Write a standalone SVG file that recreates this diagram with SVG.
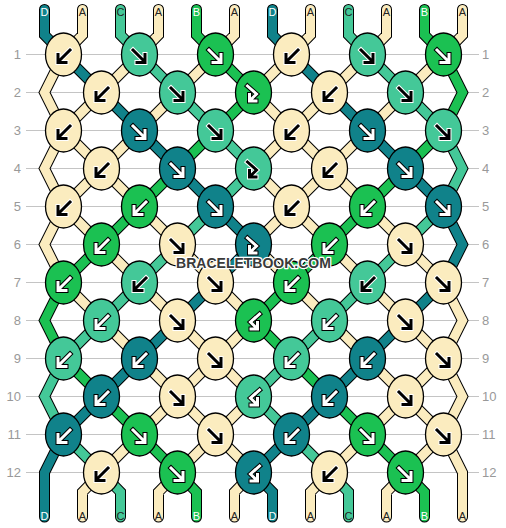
<svg xmlns="http://www.w3.org/2000/svg" xmlns:xlink="http://www.w3.org/1999/xlink" width="506" height="528" viewBox="0 0 506 528">
<style>
.grid{stroke:#c4c4c4;stroke-width:1}
.num{font-family:"Liberation Sans",Arial,sans-serif;font-size:13px;fill:#999}
.ol{fill:none;stroke:#000;stroke-width:11;stroke-linecap:round}
.st{fill:none;stroke-width:9;stroke-linecap:round}
.sA{stroke:#fbecbf}.sB{stroke:#1bc152}.sC{stroke:#44c898}.sD{stroke:#10828a}
.kA{fill:#fbecbf}.kB{fill:#1bc152}.kC{fill:#44c898}.kD{fill:#10828a}
ellipse{stroke:#000;stroke-width:1.3}
.aw{fill:none;stroke:#fff;stroke-width:3;stroke-linecap:square}
.ab{fill:none;stroke:#000;stroke-width:3;stroke-linecap:square}
.aow{fill:none;stroke:#fff;stroke-width:5;stroke-linecap:square}
.aob{fill:none;stroke:#000;stroke-width:5;stroke-linecap:square}
.lab{font-family:"Liberation Sans",Arial,sans-serif;font-size:11px;text-anchor:middle}
.lw{fill:#fff}.ld{fill:#222}
.wm{font-family:"Liberation Sans",Arial,sans-serif;font-size:14px;font-weight:bold;fill:#3a3a3a;stroke:#fff;stroke-width:2.5;paint-order:stroke;stroke-linejoin:round;text-anchor:middle}
</style>
<defs>
<path id="gse" d="M-6.5 -4.5L4 6M5.5 0V8H-2.5"/>
<path id="gfb" d="M-6 -6.5L3 1.5L-3 7.5M-4 2V8.5H2.5"/>
<g id="se-b"><use href="#gse" class="aow"/><use href="#gse" class="ab"/></g>
<g id="se-w"><use href="#gse" class="aob"/><use href="#gse" class="aw"/></g>
<g id="sw-b" transform="scale(-1 1)"><use href="#se-b"/></g>
<g id="sw-w" transform="scale(-1 1)"><use href="#se-w"/></g>
<g id="fb-b"><use href="#gfb" class="aow"/><use href="#gfb" class="ab"/></g>
<g id="fb-w"><use href="#gfb" class="aob"/><use href="#gfb" class="aw"/></g>
<g id="bf-w" transform="scale(-1 1)"><use href="#fb-w"/></g>
<path id="pD" d="M63.5 54.5L101.5 92.5M291.5 54.5L329.5 92.5M139.5 130.5L101.5 92.5M367.5 130.5L329.5 92.5M139.5 130.5L177.5 168.5M367.5 130.5L405.5 168.5M215.5 206.5L177.5 168.5M443.5 206.5L405.5 168.5M215.5 206.5L253.5 244.5M215.5 282.5L253.5 244.5M215.5 282.5L177.5 320.5M443.5 282.5L405.5 320.5M139.5 358.5L177.5 320.5M367.5 358.5L405.5 320.5M139.5 358.5L101.5 396.5M367.5 358.5L329.5 396.5M63.5 434.5L101.5 396.5M291.5 434.5L329.5 396.5M291.5 434.5L253.5 472.5M44.5 9.5V35L63.5 54.5M272.5 9.5V35L291.5 54.5M253.5 472.5L272.5 492V517M443.5 206.5L462.5 244.5L443.5 282.5M63.5 434.5L44.5 472.5V517"/>
<path id="pB" d="M215.5 54.5L253.5 92.5M215.5 130.5L253.5 92.5M215.5 130.5L177.5 168.5M443.5 130.5L405.5 168.5M139.5 206.5L177.5 168.5M367.5 206.5L405.5 168.5M139.5 206.5L101.5 244.5M367.5 206.5L329.5 244.5M63.5 282.5L101.5 244.5M291.5 282.5L329.5 244.5M291.5 282.5L253.5 320.5M291.5 358.5L253.5 320.5M63.5 358.5L101.5 396.5M291.5 358.5L329.5 396.5M139.5 434.5L101.5 396.5M367.5 434.5L329.5 396.5M139.5 434.5L177.5 472.5M367.5 434.5L405.5 472.5M196.5 9.5V35L215.5 54.5M424.5 9.5V35L443.5 54.5M177.5 472.5L196.5 492V517M405.5 472.5L424.5 492V517M63.5 282.5L44.5 320.5L63.5 358.5M443.5 54.5L462.5 92.5L443.5 130.5"/>
<path id="pC" d="M139.5 54.5L177.5 92.5M367.5 54.5L405.5 92.5M215.5 130.5L177.5 92.5M443.5 130.5L405.5 92.5M215.5 130.5L253.5 168.5M215.5 206.5L253.5 168.5M215.5 206.5L177.5 244.5M443.5 206.5L405.5 244.5M139.5 282.5L177.5 244.5M367.5 282.5L405.5 244.5M139.5 282.5L101.5 320.5M367.5 282.5L329.5 320.5M63.5 358.5L101.5 320.5M291.5 358.5L329.5 320.5M291.5 358.5L253.5 396.5M291.5 434.5L253.5 396.5M63.5 434.5L101.5 472.5M291.5 434.5L329.5 472.5M120.5 9.5V35L139.5 54.5M348.5 9.5V35L367.5 54.5M101.5 472.5L120.5 492V517M329.5 472.5L348.5 492V517M443.5 130.5L462.5 168.5L443.5 206.5M63.5 358.5L44.5 396.5L63.5 434.5"/>
<path id="pA" d="M139.5 54.5L101.5 92.5M215.5 54.5L177.5 92.5M291.5 54.5L253.5 92.5M367.5 54.5L329.5 92.5M443.5 54.5L405.5 92.5M63.5 130.5L101.5 92.5M139.5 130.5L177.5 92.5M291.5 130.5L253.5 92.5M291.5 130.5L329.5 92.5M367.5 130.5L405.5 92.5M63.5 130.5L101.5 168.5M139.5 130.5L101.5 168.5M291.5 130.5L253.5 168.5M291.5 130.5L329.5 168.5M367.5 130.5L329.5 168.5M63.5 206.5L101.5 168.5M139.5 206.5L101.5 168.5M291.5 206.5L253.5 168.5M291.5 206.5L329.5 168.5M367.5 206.5L329.5 168.5M63.5 206.5L101.5 244.5M139.5 206.5L177.5 244.5M291.5 206.5L253.5 244.5M291.5 206.5L329.5 244.5M367.5 206.5L405.5 244.5M139.5 282.5L101.5 244.5M215.5 282.5L177.5 244.5M291.5 282.5L253.5 244.5M367.5 282.5L329.5 244.5M443.5 282.5L405.5 244.5M63.5 282.5L101.5 320.5M139.5 282.5L177.5 320.5M215.5 282.5L253.5 320.5M291.5 282.5L329.5 320.5M367.5 282.5L405.5 320.5M139.5 358.5L101.5 320.5M215.5 358.5L177.5 320.5M215.5 358.5L253.5 320.5M367.5 358.5L329.5 320.5M443.5 358.5L405.5 320.5M139.5 358.5L177.5 396.5M215.5 358.5L177.5 396.5M215.5 358.5L253.5 396.5M367.5 358.5L405.5 396.5M443.5 358.5L405.5 396.5M139.5 434.5L177.5 396.5M215.5 434.5L177.5 396.5M215.5 434.5L253.5 396.5M367.5 434.5L405.5 396.5M443.5 434.5L405.5 396.5M139.5 434.5L101.5 472.5M215.5 434.5L177.5 472.5M215.5 434.5L253.5 472.5M367.5 434.5L329.5 472.5M443.5 434.5L405.5 472.5M82.5 9.5V35L63.5 54.5M158.5 9.5V35L139.5 54.5M234.5 9.5V35L215.5 54.5M310.5 9.5V35L291.5 54.5M386.5 9.5V35L367.5 54.5M462.5 9.5V35L443.5 54.5M101.5 472.5L82.5 492V517M177.5 472.5L158.5 492V517M253.5 472.5L234.5 492V517M329.5 472.5L310.5 492V517M405.5 472.5L386.5 492V517M63.5 54.5L44.5 92.5L63.5 130.5M63.5 130.5L44.5 168.5L63.5 206.5M63.5 206.5L44.5 244.5L63.5 282.5M443.5 282.5L462.5 320.5L443.5 358.5M443.5 358.5L462.5 396.5L443.5 434.5M443.5 434.5L462.5 472.5V517"/>
</defs>
<rect width="506" height="528" fill="#fff"/>
<g id="grid" class="grid">
<line x1="26" y1="54.5" x2="479" y2="54.5"/><line x1="26" y1="92.5" x2="479" y2="92.5"/><line x1="26" y1="130.5" x2="479" y2="130.5"/><line x1="26" y1="168.5" x2="479" y2="168.5"/><line x1="26" y1="206.5" x2="479" y2="206.5"/><line x1="26" y1="244.5" x2="479" y2="244.5"/><line x1="26" y1="282.5" x2="479" y2="282.5"/><line x1="26" y1="320.5" x2="479" y2="320.5"/><line x1="26" y1="358.5" x2="479" y2="358.5"/><line x1="26" y1="396.5" x2="479" y2="396.5"/><line x1="26" y1="434.5" x2="479" y2="434.5"/><line x1="26" y1="472.5" x2="479" y2="472.5"/>
</g>
<g id="row-numbers" class="num">
<g text-anchor="end">
<text x="21" y="59">1</text><text x="21" y="97">2</text><text x="21" y="135">3</text><text x="21" y="173">4</text><text x="21" y="211">5</text><text x="21" y="249">6</text><text x="21" y="287">7</text><text x="21" y="325">8</text><text x="21" y="363">9</text><text x="21" y="401">10</text><text x="21" y="439">11</text><text x="21" y="477">12</text>
</g>
<g>
<text x="482" y="59">1</text><text x="482" y="97">2</text><text x="482" y="135">3</text><text x="482" y="173">4</text><text x="482" y="211">5</text><text x="482" y="249">6</text><text x="482" y="287">7</text><text x="482" y="325">8</text><text x="482" y="363">9</text><text x="482" y="401">10</text><text x="482" y="439">11</text><text x="482" y="477">12</text>
</g>
</g>
<g id="connectors">
<use href="#pA" class="ol"/><use href="#pB" class="ol"/><use href="#pC" class="ol"/><use href="#pD" class="ol"/>
<use href="#pA" class="st sA"/><use href="#pB" class="st sB"/><use href="#pC" class="st sC"/><use href="#pD" class="st sD"/>
</g>
<g id="thread-labels" class="lab">
<text x="44.5" y="16" class="lw">D</text><text x="82.5" y="16" class="ld">A</text><text x="120.5" y="16" class="ld">C</text><text x="158.5" y="16" class="ld">A</text><text x="196.5" y="16" class="lw">B</text><text x="234.5" y="16" class="ld">A</text><text x="272.5" y="16" class="lw">D</text><text x="310.5" y="16" class="ld">A</text><text x="348.5" y="16" class="ld">C</text><text x="386.5" y="16" class="ld">A</text><text x="424.5" y="16" class="lw">B</text><text x="462.5" y="16" class="ld">A</text>
<text x="44.5" y="519.5" class="lw">D</text><text x="82.5" y="519.5" class="ld">A</text><text x="120.5" y="519.5" class="ld">C</text><text x="158.5" y="519.5" class="ld">A</text><text x="196.5" y="519.5" class="lw">B</text><text x="234.5" y="519.5" class="ld">A</text><text x="272.5" y="519.5" class="lw">D</text><text x="310.5" y="519.5" class="ld">A</text><text x="348.5" y="519.5" class="ld">C</text><text x="386.5" y="519.5" class="ld">A</text><text x="424.5" y="519.5" class="lw">B</text><text x="462.5" y="519.5" class="ld">A</text>
</g>
<g id="knots">
<g id="k1-1" transform="translate(63.5 54.5)"><ellipse class="kA" rx="18" ry="21.5"/><use href="#sw-b"/></g>
<g id="k1-2" transform="translate(139.5 54.5)"><ellipse class="kC" rx="18" ry="21.5"/><use href="#se-b"/></g>
<g id="k1-3" transform="translate(215.5 54.5)"><ellipse class="kB" rx="18" ry="21.5"/><use href="#se-w"/></g>
<g id="k1-4" transform="translate(291.5 54.5)"><ellipse class="kA" rx="18" ry="21.5"/><use href="#sw-b"/></g>
<g id="k1-5" transform="translate(367.5 54.5)"><ellipse class="kC" rx="18" ry="21.5"/><use href="#se-b"/></g>
<g id="k1-6" transform="translate(443.5 54.5)"><ellipse class="kB" rx="18" ry="21.5"/><use href="#se-w"/></g>
<g id="k2-1" transform="translate(101.5 92.5)"><ellipse class="kA" rx="18" ry="21.5"/><use href="#sw-b"/></g>
<g id="k2-2" transform="translate(177.5 92.5)"><ellipse class="kC" rx="18" ry="21.5"/><use href="#se-b"/></g>
<g id="k2-3" transform="translate(253.5 92.5)"><ellipse class="kB" rx="18" ry="21.5"/><use href="#fb-w"/></g>
<g id="k2-4" transform="translate(329.5 92.5)"><ellipse class="kA" rx="18" ry="21.5"/><use href="#sw-b"/></g>
<g id="k2-5" transform="translate(405.5 92.5)"><ellipse class="kC" rx="18" ry="21.5"/><use href="#se-b"/></g>
<g id="k3-1" transform="translate(63.5 130.5)"><ellipse class="kA" rx="18" ry="21.5"/><use href="#sw-b"/></g>
<g id="k3-2" transform="translate(139.5 130.5)"><ellipse class="kD" rx="18" ry="21.5"/><use href="#se-w"/></g>
<g id="k3-3" transform="translate(215.5 130.5)"><ellipse class="kC" rx="18" ry="21.5"/><use href="#se-b"/></g>
<g id="k3-4" transform="translate(291.5 130.5)"><ellipse class="kA" rx="18" ry="21.5"/><use href="#sw-b"/></g>
<g id="k3-5" transform="translate(367.5 130.5)"><ellipse class="kD" rx="18" ry="21.5"/><use href="#se-w"/></g>
<g id="k3-6" transform="translate(443.5 130.5)"><ellipse class="kC" rx="18" ry="21.5"/><use href="#se-b"/></g>
<g id="k4-1" transform="translate(101.5 168.5)"><ellipse class="kA" rx="18" ry="21.5"/><use href="#sw-b"/></g>
<g id="k4-2" transform="translate(177.5 168.5)"><ellipse class="kD" rx="18" ry="21.5"/><use href="#se-w"/></g>
<g id="k4-3" transform="translate(253.5 168.5)"><ellipse class="kC" rx="18" ry="21.5"/><use href="#fb-b"/></g>
<g id="k4-4" transform="translate(329.5 168.5)"><ellipse class="kA" rx="18" ry="21.5"/><use href="#sw-b"/></g>
<g id="k4-5" transform="translate(405.5 168.5)"><ellipse class="kD" rx="18" ry="21.5"/><use href="#se-w"/></g>
<g id="k5-1" transform="translate(63.5 206.5)"><ellipse class="kA" rx="18" ry="21.5"/><use href="#sw-b"/></g>
<g id="k5-2" transform="translate(139.5 206.5)"><ellipse class="kB" rx="18" ry="21.5"/><use href="#sw-w"/></g>
<g id="k5-3" transform="translate(215.5 206.5)"><ellipse class="kD" rx="18" ry="21.5"/><use href="#se-w"/></g>
<g id="k5-4" transform="translate(291.5 206.5)"><ellipse class="kA" rx="18" ry="21.5"/><use href="#sw-b"/></g>
<g id="k5-5" transform="translate(367.5 206.5)"><ellipse class="kB" rx="18" ry="21.5"/><use href="#sw-w"/></g>
<g id="k5-6" transform="translate(443.5 206.5)"><ellipse class="kD" rx="18" ry="21.5"/><use href="#se-w"/></g>
<g id="k6-1" transform="translate(101.5 244.5)"><ellipse class="kB" rx="18" ry="21.5"/><use href="#sw-w"/></g>
<g id="k6-2" transform="translate(177.5 244.5)"><ellipse class="kA" rx="18" ry="21.5"/><use href="#se-b"/></g>
<g id="k6-3" transform="translate(253.5 244.5)"><ellipse class="kD" rx="18" ry="21.5"/><use href="#fb-w"/></g>
<g id="k6-4" transform="translate(329.5 244.5)"><ellipse class="kB" rx="18" ry="21.5"/><use href="#sw-w"/></g>
<g id="k6-5" transform="translate(405.5 244.5)"><ellipse class="kA" rx="18" ry="21.5"/><use href="#se-b"/></g>
<g id="k7-1" transform="translate(63.5 282.5)"><ellipse class="kB" rx="18" ry="21.5"/><use href="#sw-w"/></g>
<g id="k7-2" transform="translate(139.5 282.5)"><ellipse class="kC" rx="18" ry="21.5"/><use href="#sw-b"/></g>
<g id="k7-3" transform="translate(215.5 282.5)"><ellipse class="kA" rx="18" ry="21.5"/><use href="#se-b"/></g>
<g id="k7-4" transform="translate(291.5 282.5)"><ellipse class="kB" rx="18" ry="21.5"/><use href="#sw-w"/></g>
<g id="k7-5" transform="translate(367.5 282.5)"><ellipse class="kC" rx="18" ry="21.5"/><use href="#sw-b"/></g>
<g id="k7-6" transform="translate(443.5 282.5)"><ellipse class="kA" rx="18" ry="21.5"/><use href="#se-b"/></g>
<g id="k8-1" transform="translate(101.5 320.5)"><ellipse class="kC" rx="18" ry="21.5"/><use href="#sw-w"/></g>
<g id="k8-2" transform="translate(177.5 320.5)"><ellipse class="kA" rx="18" ry="21.5"/><use href="#se-b"/></g>
<g id="k8-3" transform="translate(253.5 320.5)"><ellipse class="kB" rx="18" ry="21.5"/><use href="#bf-w"/></g>
<g id="k8-4" transform="translate(329.5 320.5)"><ellipse class="kC" rx="18" ry="21.5"/><use href="#sw-w"/></g>
<g id="k8-5" transform="translate(405.5 320.5)"><ellipse class="kA" rx="18" ry="21.5"/><use href="#se-b"/></g>
<g id="k9-1" transform="translate(63.5 358.5)"><ellipse class="kC" rx="18" ry="21.5"/><use href="#sw-w"/></g>
<g id="k9-2" transform="translate(139.5 358.5)"><ellipse class="kD" rx="18" ry="21.5"/><use href="#sw-w"/></g>
<g id="k9-3" transform="translate(215.5 358.5)"><ellipse class="kA" rx="18" ry="21.5"/><use href="#se-b"/></g>
<g id="k9-4" transform="translate(291.5 358.5)"><ellipse class="kC" rx="18" ry="21.5"/><use href="#sw-w"/></g>
<g id="k9-5" transform="translate(367.5 358.5)"><ellipse class="kD" rx="18" ry="21.5"/><use href="#sw-w"/></g>
<g id="k9-6" transform="translate(443.5 358.5)"><ellipse class="kA" rx="18" ry="21.5"/><use href="#se-b"/></g>
<g id="k10-1" transform="translate(101.5 396.5)"><ellipse class="kD" rx="18" ry="21.5"/><use href="#sw-w"/></g>
<g id="k10-2" transform="translate(177.5 396.5)"><ellipse class="kA" rx="18" ry="21.5"/><use href="#se-b"/></g>
<g id="k10-3" transform="translate(253.5 396.5)"><ellipse class="kC" rx="18" ry="21.5"/><use href="#bf-w"/></g>
<g id="k10-4" transform="translate(329.5 396.5)"><ellipse class="kD" rx="18" ry="21.5"/><use href="#sw-w"/></g>
<g id="k10-5" transform="translate(405.5 396.5)"><ellipse class="kA" rx="18" ry="21.5"/><use href="#se-b"/></g>
<g id="k11-1" transform="translate(63.5 434.5)"><ellipse class="kD" rx="18" ry="21.5"/><use href="#sw-w"/></g>
<g id="k11-2" transform="translate(139.5 434.5)"><ellipse class="kB" rx="18" ry="21.5"/><use href="#se-w"/></g>
<g id="k11-3" transform="translate(215.5 434.5)"><ellipse class="kA" rx="18" ry="21.5"/><use href="#se-b"/></g>
<g id="k11-4" transform="translate(291.5 434.5)"><ellipse class="kD" rx="18" ry="21.5"/><use href="#sw-w"/></g>
<g id="k11-5" transform="translate(367.5 434.5)"><ellipse class="kB" rx="18" ry="21.5"/><use href="#se-w"/></g>
<g id="k11-6" transform="translate(443.5 434.5)"><ellipse class="kA" rx="18" ry="21.5"/><use href="#se-b"/></g>
<g id="k12-1" transform="translate(101.5 472.5)"><ellipse class="kA" rx="18" ry="21.5"/><use href="#sw-b"/></g>
<g id="k12-2" transform="translate(177.5 472.5)"><ellipse class="kB" rx="18" ry="21.5"/><use href="#se-w"/></g>
<g id="k12-3" transform="translate(253.5 472.5)"><ellipse class="kD" rx="18" ry="21.5"/><use href="#bf-w"/></g>
<g id="k12-4" transform="translate(329.5 472.5)"><ellipse class="kA" rx="18" ry="21.5"/><use href="#sw-b"/></g>
<g id="k12-5" transform="translate(405.5 472.5)"><ellipse class="kB" rx="18" ry="21.5"/><use href="#se-w"/></g>
</g>
<text id="watermark" class="wm" x="253.5" y="268">BRACELETBOOK.COM</text>
</svg>
